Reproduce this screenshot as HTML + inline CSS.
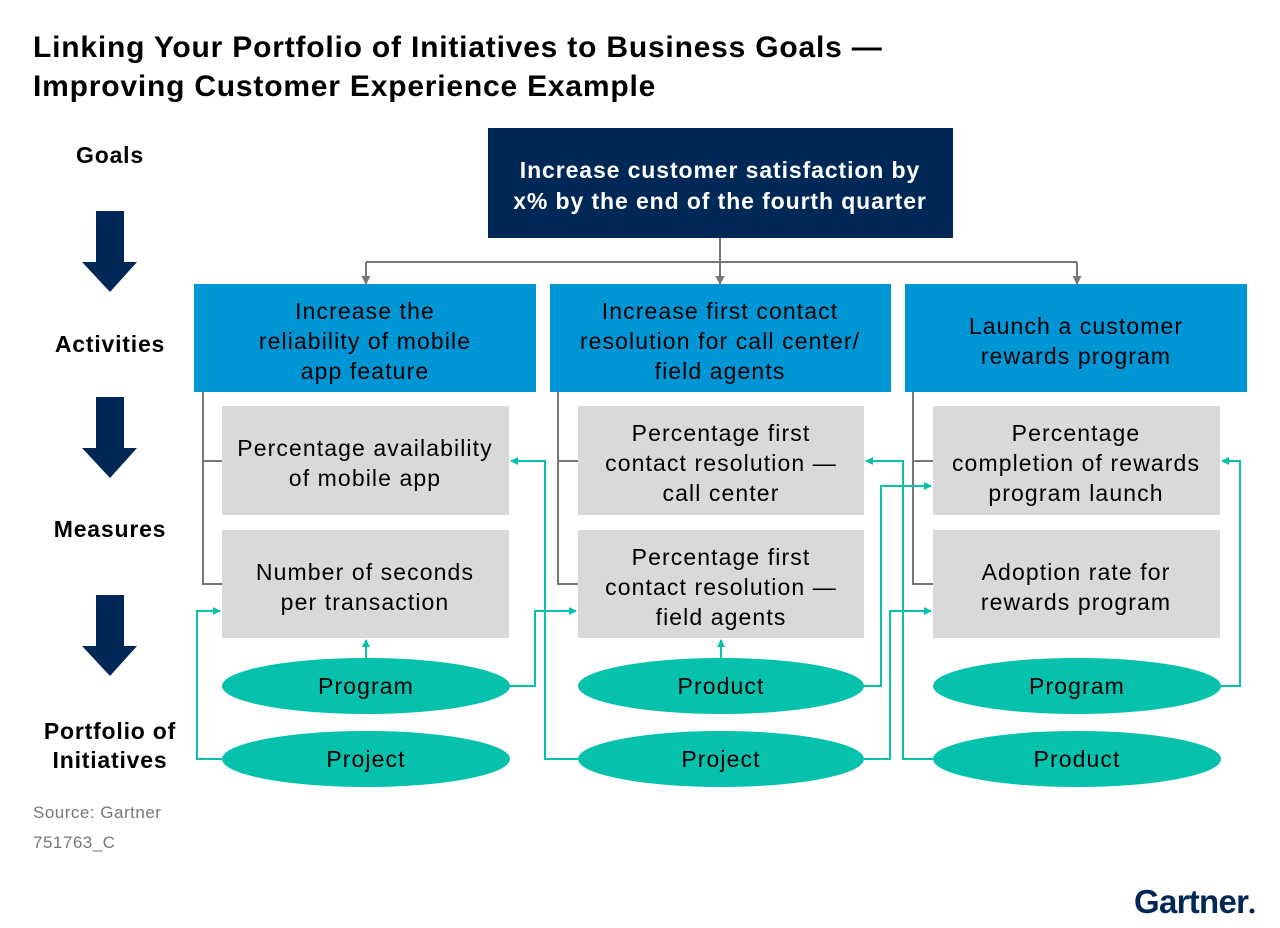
<!DOCTYPE html>
<html><head><meta charset="utf-8"><style>
body{margin:0;background:#fff;}
svg{display:block;font-family:"Liberation Sans",sans-serif;}
</style></head><body>
<svg width="1280" height="928" viewBox="0 0 1280 928">
<defs>
<marker id="ta" markerWidth="8" markerHeight="8" refX="7" refY="4" orient="auto" markerUnits="userSpaceOnUse"><path d="M0,0 L8,4 L0,8 Z" fill="#06c2ac"/></marker>
<marker id="ga" markerWidth="9" markerHeight="9" refX="8" refY="4.5" orient="auto" markerUnits="userSpaceOnUse"><path d="M0,0 L9,4.5 L0,9 Z" fill="#777"/></marker>
</defs>
<g font-weight="bold" font-size="30" fill="#000" letter-spacing="0.8">
<text x="33" y="57">Linking Your Portfolio of Initiatives to Business Goals —</text>
<text x="33" y="96">Improving Customer Experience Example</text>
</g>
<g font-weight="bold" font-size="23" fill="#000" text-anchor="middle" letter-spacing="0.8">
<text x="110" y="163">Goals</text>
<text x="110" y="352">Activities</text>
<text x="110" y="537">Measures</text>
<text x="110" y="739">Portfolio of<tspan x="110" dy="29">Initiatives</tspan></text>
</g>
<g fill="#002856">
<path d="M96,211H124V262H137L110,292L82,262H96Z"/>
<path d="M96,397H124V448H137L110,478L82,448H96Z"/>
<path d="M96,595H124V646H137L110,676L82,646H96Z"/>
</g>
<g stroke="#777" stroke-width="2" fill="none">
<path d="M720,238V262M366,262H1077"/>
<path d="M366,262V284" marker-end="url(#ga)"/>
<path d="M720,262V284" marker-end="url(#ga)"/>
<path d="M1077,262V284" marker-end="url(#ga)"/>
<path d="M203,392V584H222M203,461H222"/>
<path d="M558,392V584H578M558,461H578"/>
<path d="M913,392V584H933M913,461H933"/>
</g>
<rect x="488" y="128" width="465" height="110" fill="#002856"/>
<text fill="#fff" font-weight="bold" font-size="23" text-anchor="middle" letter-spacing="0.9"><tspan x="720" y="178">Increase customer satisfaction by</tspan><tspan x="720" y="209">x% by the end of the fourth quarter</tspan></text>
<g fill="#0096d6">
<rect x="194" y="284" width="342" height="108"/>
<rect x="550" y="284" width="341" height="108"/>
<rect x="905" y="284" width="342" height="108"/>
</g>
<g font-size="23" fill="#000" text-anchor="middle" letter-spacing="1.1">
<text><tspan x="365" y="319">Increase the</tspan><tspan x="365" y="349">reliability of mobile</tspan><tspan x="365" y="379">app feature</tspan></text>
<text><tspan x="720" y="319">Increase first contact</tspan><tspan x="720" y="349">resolution for call center/</tspan><tspan x="720" y="379">field agents</tspan></text>
<text><tspan x="1076" y="334">Launch a customer</tspan><tspan x="1076" y="364">rewards program</tspan></text>
</g>
<g fill="#d9d9d9">
<rect x="222" y="406" width="287" height="109"/>
<rect x="222" y="530" width="287" height="108"/>
<rect x="578" y="406" width="286" height="109"/>
<rect x="578" y="530" width="286" height="108"/>
<rect x="933" y="406" width="287" height="109"/>
<rect x="933" y="530" width="287" height="108"/>
</g>
<g font-size="23" fill="#000" text-anchor="middle" letter-spacing="1.1">
<text><tspan x="365" y="456">Percentage availability</tspan><tspan x="365" y="486">of mobile app</tspan></text>
<text><tspan x="365" y="580">Number of seconds</tspan><tspan x="365" y="610">per transaction</tspan></text>
<text><tspan x="721" y="441">Percentage first</tspan><tspan x="721" y="471">contact resolution —</tspan><tspan x="721" y="501">call center</tspan></text>
<text><tspan x="721" y="565">Percentage first</tspan><tspan x="721" y="595">contact resolution —</tspan><tspan x="721" y="625">field agents</tspan></text>
<text><tspan x="1076" y="441">Percentage</tspan><tspan x="1076" y="471">completion of rewards</tspan><tspan x="1076" y="501">program launch</tspan></text>
<text><tspan x="1076" y="580">Adoption rate for</tspan><tspan x="1076" y="610">rewards program</tspan></text>
</g>
<g stroke="#06c2ac" stroke-width="2" fill="none">
<path d="M366,658V640" marker-end="url(#ta)"/>
<path d="M721,658V640" marker-end="url(#ta)"/>
<path d="M222,759H197V611H220" marker-end="url(#ta)"/>
<path d="M509,686H535V611H576" marker-end="url(#ta)"/>
<path d="M578,759H545V461H511" marker-end="url(#ta)"/>
<path d="M864,686H881V486H931" marker-end="url(#ta)"/>
<path d="M864,759H890V611H931" marker-end="url(#ta)"/>
<path d="M933,759H903V461H866" marker-end="url(#ta)"/>
<path d="M1220,686H1240V461H1222" marker-end="url(#ta)"/>
</g>
<g fill="#06c2ac">
<ellipse cx="366" cy="686" rx="144" ry="28"/>
<ellipse cx="366" cy="759" rx="144" ry="28"/>
<ellipse cx="721" cy="686" rx="143" ry="28"/>
<ellipse cx="721" cy="759" rx="143" ry="28"/>
<ellipse cx="1077" cy="686" rx="144" ry="28"/>
<ellipse cx="1077" cy="759" rx="144" ry="28"/>
</g>
<g font-size="23" fill="#000" text-anchor="middle" letter-spacing="1.1">
<text x="366" y="694">Program</text>
<text x="366" y="767">Project</text>
<text x="721" y="694">Product</text>
<text x="721" y="767">Project</text>
<text x="1077" y="694">Program</text>
<text x="1077" y="767">Product</text>
</g>
<text x="33" y="818" font-size="17" fill="#777" letter-spacing="0.5">Source: Gartner</text>
<text x="33" y="848" font-size="17" fill="#777" letter-spacing="0.5">751763_C</text>
<text x="1134" y="913" font-size="33" font-weight="bold" fill="#002856" textLength="114" letter-spacing="-1">Gartner</text>
<circle cx="1252" cy="911" r="2.5" fill="#002856"/>
</svg>
</body></html>
